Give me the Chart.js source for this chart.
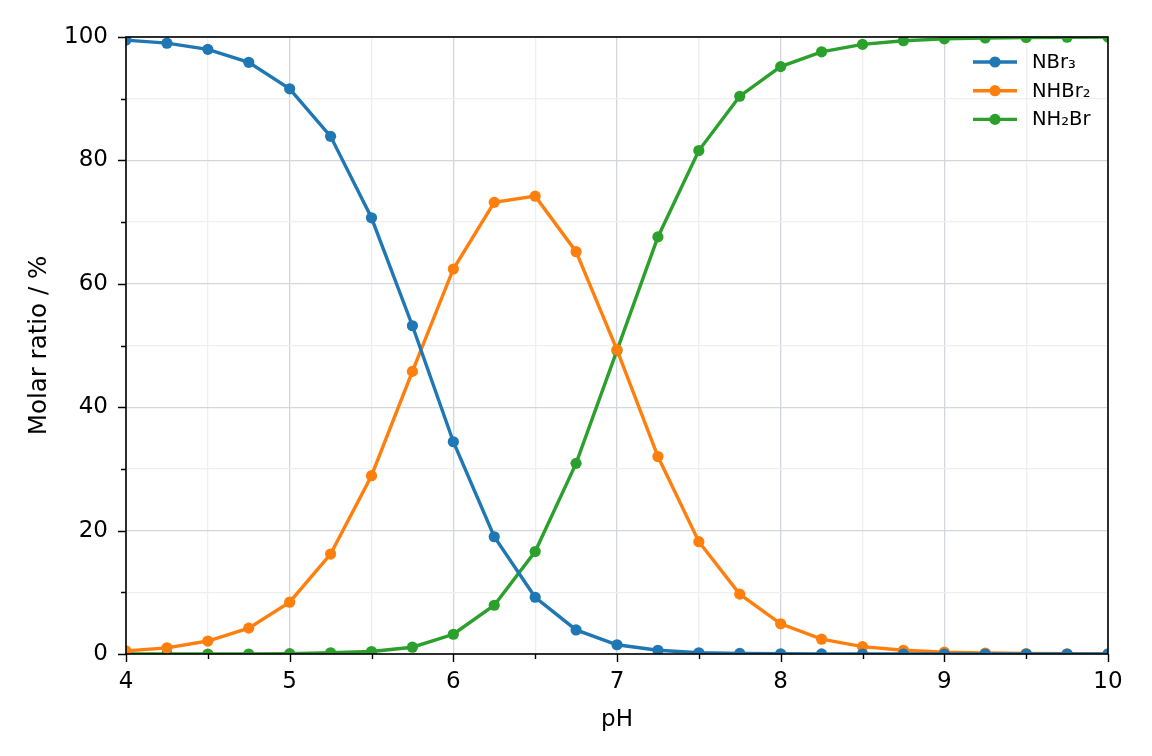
<!DOCTYPE html>
<html>
<head>
<meta charset="utf-8">
<script src="https://cdn.jsdelivr.net/npm/chart.js@4/dist/chart.umd.min.js"></script>
<style>
  html, body { margin: 0; padding: 0; background: #fff; }
  #wrap { width: 1152px; height: 756px; }
</style>
</head>
<body>
<div id="wrap"><canvas id="chart" width="1152" height="756"></canvas></div>
<script>
const phValues = [4, 4.25, 4.5, 4.75, 5, 5.25, 5.5, 5.75, 6, 6.25, 6.5, 6.75, 7,
  7.25, 7.5, 7.75, 8, 8.25, 8.5, 8.75, 9, 9.25, 9.5, 9.75, 10];

const nbr3 = [99.5, 99.0, 98.0, 95.9, 91.6, 83.9, 70.7, 53.2, 34.4, 19.0, 9.2, 3.9, 1.5,
  0.6, 0.2, 0.1, 0.03, 0.01, 0, 0, 0, 0, 0, 0, 0];
const nhbr2 = [0.5, 1.0, 2.1, 4.2, 8.4, 16.2, 28.9, 45.8, 62.4, 73.2, 74.2, 65.2, 49.3,
  32.0, 18.2, 9.7, 4.9, 2.4, 1.2, 0.6, 0.3, 0.15, 0.08, 0.04, 0.02];
const nh2br = [0, 0, 0, 0, 0.05, 0.2, 0.4, 1.1, 3.2, 7.9, 16.6, 30.9, 49.2,
  67.6, 81.6, 90.4, 95.2, 97.6, 98.8, 99.4, 99.7, 99.85, 99.92, 99.96, 99.98];

const seriesLabels = ['NBr₃', 'NHBr₂', 'NH₂Br'];
const seriesColors = ['#1f77b4', '#ff7f0e', '#2ca02c'];

const xMajorTicks = [4, 5, 6, 7, 8, 9, 10];
const yMajorTicks = [0, 20, 40, 60, 80, 100];

const FONT = 'DejaVu Sans';

function toPoints(values) {
  return phValues.map((x, i) => ({ x, y: values[i] }));
}

const datasets = [nbr3, nhbr2, nh2br].map((values, i) => ({
  label: seriesLabels[i],
  data: toPoints(values),
  borderColor: seriesColors[i],
  backgroundColor: seriesColors[i],
  borderWidth: 3.4,
  pointRadius: 5.6,
  pointBorderWidth: 0,
  pointHoverRadius: 5.6,
  tension: 0,
  clip: 0
}));

// frame + outward ticks + in-plot legend, like the matplotlib original
const decorPlugin = {
  id: 'decor',
  afterDraw(chart) {
    const { ctx, chartArea: a, scales } = chart;
    ctx.save();
    ctx.strokeStyle = '#000';
    ctx.lineWidth = 1.6;
    ctx.strokeRect(a.left, a.top, a.right - a.left, a.bottom - a.top);

    ctx.lineWidth = 1.4;
    ctx.beginPath();
    for (let v = 4; v <= 10.001; v += 0.5) {
      const px = Math.round(scales.x.getPixelForValue(v)) + 0.5;
      const len = xMajorTicks.includes(v) ? 8 : 5;
      ctx.moveTo(px, a.bottom);
      ctx.lineTo(px, a.bottom + len);
    }
    for (let v = 0; v <= 100; v += 10) {
      const py = Math.round(scales.y.getPixelForValue(v)) + 0.5;
      const len = yMajorTicks.includes(v) ? 8 : 5;
      ctx.moveTo(a.left, py);
      ctx.lineTo(a.left - len, py);
    }
    ctx.stroke();

    // legend
    ctx.font = '19.5px ' + FONT;
    ctx.textBaseline = 'middle';
    chart.data.datasets.forEach((ds, i) => {
      const y = 62 + i * 28.7;
      ctx.strokeStyle = ds.borderColor;
      ctx.fillStyle = ds.borderColor;
      ctx.lineWidth = 3.4;
      ctx.beginPath();
      ctx.moveTo(973, y);
      ctx.lineTo(1017, y);
      ctx.stroke();
      ctx.beginPath();
      ctx.arc(995, y, 5.6, 0, Math.PI * 2);
      ctx.fill();
      ctx.fillStyle = '#000';
      ctx.fillText(ds.label, 1032, y + 1);
    });
    ctx.restore();
  }
};

new Chart(document.getElementById('chart').getContext('2d'), {
  type: 'line',
  data: { datasets },
  plugins: [decorPlugin],
  options: {
    responsive: false,
    animation: false,
    events: [],
    layout: { padding: { top: 37, right: 44, left: 0, bottom: 0 } },
    plugins: { legend: { display: false }, tooltip: { enabled: false } },
    scales: {
      x: {
        type: 'linear',
        min: 4,
        max: 10,
        afterFit(scale) { scale.height = 102; },
        afterBuildTicks(scale) {
          const t = [];
          for (let v = 4; v <= 10.001; v += 0.5) t.push({ value: v });
          scale.ticks = t;
        },
        ticks: {
          autoSkip: false,
          maxRotation: 0,
          padding: 14,
          color: '#000',
          font: { family: FONT, size: 23 },
          callback: v => (xMajorTicks.includes(v) ? String(v) : '')
        },
        grid: {
          drawTicks: false,
          lineWidth: 1.3,
          color: c => (c.tick && xMajorTicks.includes(c.tick.value) ? '#d3d6dd' : '#efefef')
        },
        border: { display: false },
        title: {
          display: true,
          text: 'pH',
          color: '#000',
          font: { family: FONT, size: 23 },
          padding: { top: 4, bottom: 22 }
        }
      },
      y: {
        type: 'linear',
        min: 0,
        max: 100,
        afterFit(scale) { scale.width = 126; },
        afterBuildTicks(scale) {
          const t = [];
          for (let v = 0; v <= 100; v += 10) t.push({ value: v });
          scale.ticks = t;
        },
        ticks: {
          autoSkip: false,
          padding: 18,
          color: '#000',
          font: { family: FONT, size: 23 },
          callback: v => (yMajorTicks.includes(v) ? String(v) : '')
        },
        grid: {
          drawTicks: false,
          lineWidth: 1.3,
          color: c => (c.tick && yMajorTicks.includes(c.tick.value) ? '#d3d6dd' : '#efefef')
        },
        border: { display: false },
        title: {
          display: true,
          text: 'Molar ratio / %',
          color: '#000',
          font: { family: FONT, size: 24.5 },
          padding: { top: 25, bottom: 4 }
        }
      }
    }
  }
});
</script>
</body>
</html>
